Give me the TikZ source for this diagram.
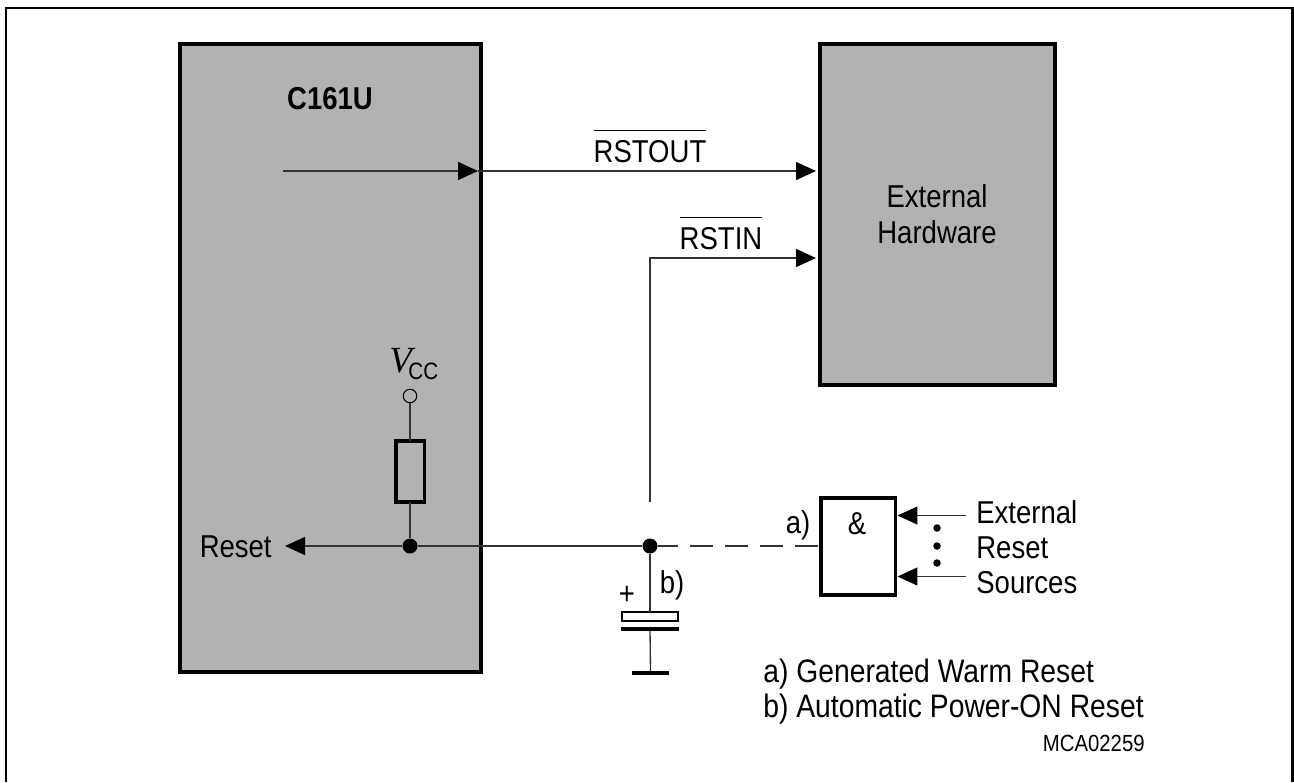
\documentclass[tikz,border=0pt]{standalone}
\usepackage{fontspec}
\setmainfont[FakeStretch=0.87]{Liberation Sans}
\newfontfamily\vccfont{Liberation Serif}
\usetikzlibrary{arrows.meta, positioning, calc}
\definecolor{chipgray}{HTML}{B2B2B2}
\definecolor{wire}{HTML}{333333}
\newcommand{\barsig}[1]{$\overline{\mbox{\rule{0pt}{16.5pt}#1}}$}

\tikzset{
  blockbox/.style={draw=black, line width=4pt*0.5669, fill=chipgray, outer sep=0pt, inner sep=0pt},
  gatebox/.style={draw=black, line width=4pt*0.5669, fill=white, inner sep=0pt},
  label/.style={font=\fontsize{18}{18}\selectfont, inner sep=0pt, anchor=base},
  leftlabel/.style={label, anchor=base west},
  notelabel/.style={leftlabel, font=\fontsize{18.5}{18.5}\selectfont},
  sig/.style={draw=wire, line width=0.75pt, -{Triangle[length=0.4cm, width=0.36cm, color=black]}},
  wireline/.style={draw=wire, line width=0.75pt},
  joint/.style={circle, fill=black, inner sep=0pt, minimum size=0.3cm},
  dots/.style={circle, fill=black, inner sep=0pt, minimum size=0.15cm},
  pin/.style={circle, draw=black, line width=0.6pt, fill=chipgray, inner sep=0pt, minimum size=0.27cm, outer sep=0pt},
  platebar/.style={fill=black, inner sep=0pt, outer sep=0pt}
}

\begin{document}
\begin{tikzpicture}[x=0.02cm, y=-0.02cm]

% Frame (open at the bottom of the page)
\useasboundingbox (0,0) rectangle (1294,782);
\draw[black, line width=1.2pt] (6,782) -- (6,8) -- (1292.5,8) -- (1292.5,782);

% Blocks
\node[blockbox, minimum width=6.03cm, minimum height=12.56cm] (chip) at (330.25,358) {};
\node[blockbox, minimum width=4.71cm, minimum height=6.82cm] (hw) at (937.25,214.5) {};
\node[gatebox, minimum width=1.5cm, minimum height=1.94cm] (gate) at (858,546.5) {};

% Block texts
\node[label, font=\fontsize{18}{18}\selectfont\bfseries] (chipname) at (330,109) {C161U};
\node[label] (hwa) at (937,207) {External};
\node[label] (hwb) at (937,243) {Hardware};
\node[label] (amp) at (857,534) {\&};

% RSTOUT
\coordinate (outstart) at (283,171);
\coordinate (outedge) at (478,171);
\coordinate (outend) at (816,171);
\draw[sig] (outstart) -- (outedge);
\draw[sig] (outedge) -- (outend);
\node[label] (rstout) at (650,162) {\barsig{RSTOUT}};

% RSTIN
\coordinate (instart) at (650,502);
\coordinate (inend) at (816,258);
\draw[sig] (instart) |- (inend);
\node[label] (rstin) at (721,249) {\barsig{RSTIN}};

% Reset line
\node[joint] (jr) at (410,546) {};
\node[joint] (jc) at (650,546) {};
\coordinate (resettip) at (285,546);
\draw[sig] (jr) -- (resettip);
\draw[wireline] (jr) -- (jc);
\node[label, anchor=base east] (reset) at (272,557) {Reset};

% Pull-up
\node[pin] (vccpin) at (410,396) {};
\node[draw=black, line width=4pt*0.5669, fill=chipgray, minimum width=0.58cm, minimum height=1.22cm, inner sep=0pt, outer sep=0pt] (res) at (410,471.5) {};
\draw[wireline] (vccpin) -- (res);
\draw[wireline] (res) -- (jr);
\node[leftlabel] (vcc) at (389,372) {{\vccfont\itshape\fontsize{21}{21}\selectfont V}\kern-2pt\raisebox{-4.5pt}{\fontsize{13.5}{13.5}\selectfont CC}};

% Dashed link to gate
\draw[wireline, dash pattern=on 0.46cm off 0.24cm, dash phase=0.05cm] (jc) -- (jc -| gate.west);
\node[label] (alabel) at (798,533) {a)};

% Capacitor
\node[draw=black, line width=0.6pt, fill=white, minimum width=1.12cm, minimum height=0.18cm, inner sep=0pt, outer sep=0pt] (capa) at (650,616.5) {};
\node[platebar, minimum width=1.16cm, minimum height=0.08cm] (capb) at (650,629) {};
\node[platebar, minimum width=0.74cm, minimum height=0.08cm] (gnd) at (650.5,673) {};
\draw[wireline] (jc) -- (capa);
\draw[wireline] (capb) -- (gnd);
\node[label] (blabel) at (672,593) {b)};
\node[label] (plus) at (627,604) {+};

% Gate inputs
\coordinate (ina) at (966,515.5);
\coordinate (inb) at (966,576.5);
\draw[sig] (ina) -- (ina -| gate.east);
\draw[sig] (inb) -- (inb -| gate.east);
\node[dots] (da) at (937,528) {};
\node[dots] (db) at (937,546) {};
\node[dots] (dc) at (937,563) {};
\node[leftlabel] (srca) at (976,523.5) {External};
\node[leftlabel] (srcb) at (976,558) {Reset};
\node[leftlabel] (srcc) at (976,593) {Sources};

% Notes
\node[notelabel] (notea) at (763,682) {a) Generated Warm Reset};
\node[notelabel] (noteb) at (763,717) {b) Automatic Power-ON Reset};
\node[label, anchor=base east, font=\fontsize{13.3}{13.3}\selectfont] (figid) at (1145,751) {MCA02259};

\end{tikzpicture}
\end{document}
